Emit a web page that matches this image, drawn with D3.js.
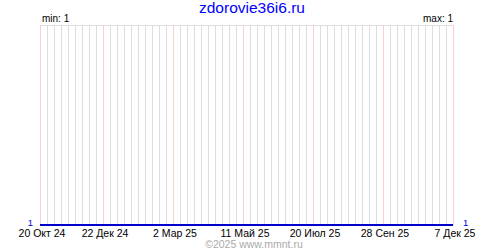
<!DOCTYPE html>
<meta charset="utf-8">
<style>
    body { margin: 0; background: #fff; }
    text { font-family: "Liberation Sans", Arial, sans-serif; }
</style>
<body>
<script src="https://cdn.jsdelivr.net/npm/d3@7"></script>
<script>
var width = 500
var height = 250
var margin = { top: 25, right: 47, bottom: 25, left: 40 }

var title = 'zdorovie36i6.ru'
var credit = '\u00a92025 www.mmnt.ru'

// weekly readings, starting 20 Oct 2024
var startDate = '2024-10-20'
var endDate = '2025-12-07'
var values = [1, 1, 1, 1, 1, 1, 1, 1, 1, 1,
              1, 1, 1, 1, 1, 1, 1, 1, 1, 1,
              1, 1, 1, 1, 1, 1, 1, 1, 1, 1,
              1, 1, 1, 1, 1, 1, 1, 1, 1, 1,
              1, 1, 1, 1, 1, 1, 1, 1, 1, 1,
              1, 1, 1, 1, 1, 1, 1, 1, 1, 1]

var tickDates = ['2024-10-20', '2024-12-22', '2025-03-02', '2025-05-11', '2025-07-20', '2025-09-28', '2025-12-07']
var tickLabels = ['20 Окт 24', '22 Дек 24', '2 Мар 25', '11 Май 25', '20 Июл 25', '28 Сен 25', '7 Дек 25']

var parse = d3.utcParse('%Y-%m-%d')
var t0 = parse(startDate)
var t1 = parse(endDate)

var data = values.map(function (v, i) {
    return { date: d3.utcDay.offset(t0, i * 7), value: v }
})
var last = data[data.length - 1]
if (last.date < t1) data.push({ date: t1, value: last.value })

var minV = d3.min(values)
var maxV = d3.max(values)

var x = d3.scaleUtc()
    .domain([t0, t1])
    .range([margin.left, width - margin.right])

var y = d3.scaleLinear()
    .domain([minV, maxV === minV ? minV + 1 : maxV])
    .range([height - margin.bottom, margin.top])

var svg = d3.select('body').append('svg')
    .attr('width', width)
    .attr('height', height)

var weeks = d3.utcWeek.range(t0, d3.utcDay.offset(t1, 1))
var ticks = tickDates.map(parse)
var isTick = function (d) { return ticks.some(function (t) { return +t === +d }) }

svg.append('line')
    .attr('x1', x(t0)).attr('x2', x(t1))
    .attr('y1', margin.top + 0.5).attr('y2', margin.top + 0.5)
    .attr('stroke', '#ddd')

svg.selectAll('.week')
    .data(weeks.filter(function (d) { return !isTick(d) }))
    .enter().append('line')
    .attr('class', 'week')
    .attr('x1', function (d) { return Math.round(x(d)) + 0.5 })
    .attr('x2', function (d) { return Math.round(x(d)) + 0.5 })
    .attr('y1', margin.top)
    .attr('y2', height - margin.bottom)
    .attr('stroke', '#ddd')

svg.selectAll('.major')
    .data(ticks)
    .enter().append('line')
    .attr('class', 'major')
    .attr('x1', function (d) { return Math.round(x(d)) + 0.5 })
    .attr('x2', function (d) { return Math.round(x(d)) + 0.5 })
    .attr('y1', margin.top)
    .attr('y2', height - margin.bottom)
    .attr('stroke', '#fcc')

var line = d3.line()
    .x(function (d) { return x(d.date) })
    .y(function (d) { return Math.round(y(d.value)) })

svg.append('path')
    .datum(data)
    .attr('d', line)
    .attr('fill', 'none')
    .attr('stroke', '#0000cc')
    .attr('stroke-width', 2)
    .attr('shape-rendering', 'crispEdges')

svg.selectAll('.xlabel')
    .data(ticks)
    .enter().append('text')
    .attr('class', 'xlabel')
    .attr('x', function (d) { return x(d) + 2 })
    .attr('y', 237)
    .attr('text-anchor', 'middle')
    .attr('font-size', 10.5)
    .attr('fill', '#000')
    .text(function (d, i) { return tickLabels[i] })

svg.append('text')
    .attr('x', margin.left - 7).attr('y', y(minV) + 1)
    .attr('text-anchor', 'end')
    .attr('font-size', 9.5)
    .attr('fill', '#00d')
    .text(values[0])

svg.append('text')
    .attr('x', width - margin.right + 10).attr('y', y(last.value) + 1)
    .attr('text-anchor', 'start')
    .attr('font-size', 9.5)
    .attr('fill', '#00d')
    .text(last.value)

svg.append('text')
    .attr('x', margin.left + 2).attr('y', 22)
    .attr('font-size', 10)
    .attr('fill', '#000')
    .text('min: ' + minV)

svg.append('text')
    .attr('x', width - margin.right).attr('y', 22)
    .attr('text-anchor', 'end')
    .attr('font-size', 10)
    .attr('fill', '#000')
    .text('max: ' + maxV)

svg.append('text')
    .attr('x', 252).attr('y', 13)
    .attr('text-anchor', 'middle')
    .attr('font-size', 15.5)
    .attr('fill', '#00f')
    .text(title)

svg.append('text')
    .attr('x', 254).attr('y', 248)
    .attr('text-anchor', 'middle')
    .attr('font-size', 10.5)
    .attr('fill', '#aaa')
    .text(credit)
</script>
</body>
